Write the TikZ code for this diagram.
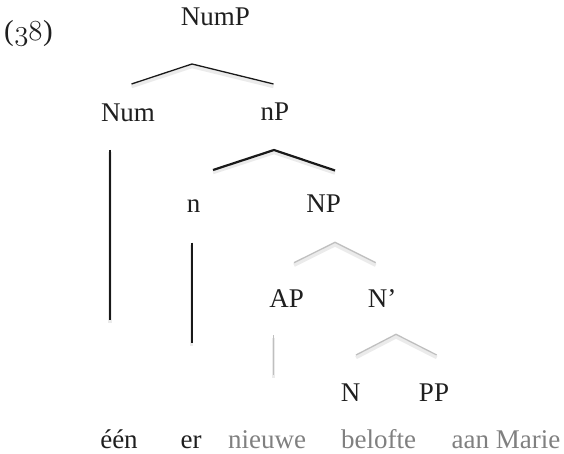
\RequirePackage{fix-cm}
\documentclass[tikz,border=0pt]{standalone}
\usepackage{fontspec}
\setmainfont{Liberation Serif}
\begin{document}
\begin{tikzpicture}[x=1pt,y=-1pt,
  lbl/.style={anchor=base, inner sep=0pt, text=black!88,
    font=\fontsize{27}{32}\selectfont},
  faded/.style={lbl, text=black!50},
  soft/.style={preaction={draw=black!8, line width=3.5pt,
    transform canvas={yshift=-2.5pt}}},
  thinbr/.style={draw=black!90, line width=1.3pt, soft},
  thickbr/.style={draw=black!90, line width=2.2pt, soft},
  greybr/.style={draw=black!25, line width=1.3pt, soft}]
\useasboundingbox (0,0) rectangle (564,454);

% example number
\node[lbl, font=\fontsize{29}{34}\selectfont] (ex) at (28.5,41)
  {(\kern0.5pt$\mathnormal{38}$\kern0.5pt)};

% category labels
\node[lbl] (nump) at (215.5,26) {NumP};
\node[lbl] (num)  at (128,122)  {Num};
\node[lbl] (np)   at (275,121)  {nP};
\node[lbl] (n)    at (193.5,213) {n};
\node[lbl] (NP)   at (323.7,213) {NP};
\node[lbl] (ap)   at (286.7,307.5) {AP};
\node[lbl] (nbar) at (382,307) {N’};
\node[lbl] (N)    at (350.5,401.5) {N};
\node[lbl] (pp)   at (434,401.5) {PP};

% terminal words
\node[lbl]   (w1) at (119,448.5) {één};
\node[lbl]   (w2) at (191,448.5) {er};
\node[faded] (w3) at (267,448.5) {nieuwe};
\node[faded] (w4) at (378.5,448.5) {belofte};
\node[faded] (w5) at (506,448.5) {aan Marie};

% branch points
\coordinate (numpL) at (131.5,84);
\coordinate (numpT) at (192,64);
\coordinate (numpR) at (273.5,84);
\coordinate (npL) at (213,170);
\coordinate (npT) at (274,150);
\coordinate (npR) at (335,170.5);
\coordinate (NPL) at (294,262.7);
\coordinate (NPT) at (335,242.3);
\coordinate (NPR) at (375.7,262.7);
\coordinate (nbL) at (356,355);
\coordinate (nbT) at (396,334.3);
\coordinate (nbR) at (436.7,355);
\coordinate (numA) at (110,150);
\coordinate (numB) at (110,320);
\coordinate (nA) at (191.7,242.5);
\coordinate (nB) at (191.7,343);
\coordinate (apA) at (273.3,335);
\coordinate (apB) at (273.3,375);

% branches
\draw[thinbr]  (numpL) -- (numpT) -- (numpR);
\draw[thickbr] (npL) -- (npT) -- (npR);
\draw[greybr]  (NPL) -- (NPT) -- (NPR);
\draw[greybr]  (nbL) -- (nbT) -- (nbR);
\draw[thinbr]  (numA) -- (numB);
\draw[thickbr] (nA) -- (nB);
\draw[greybr]  (apA) -- (apB);
\end{tikzpicture}
\end{document}
